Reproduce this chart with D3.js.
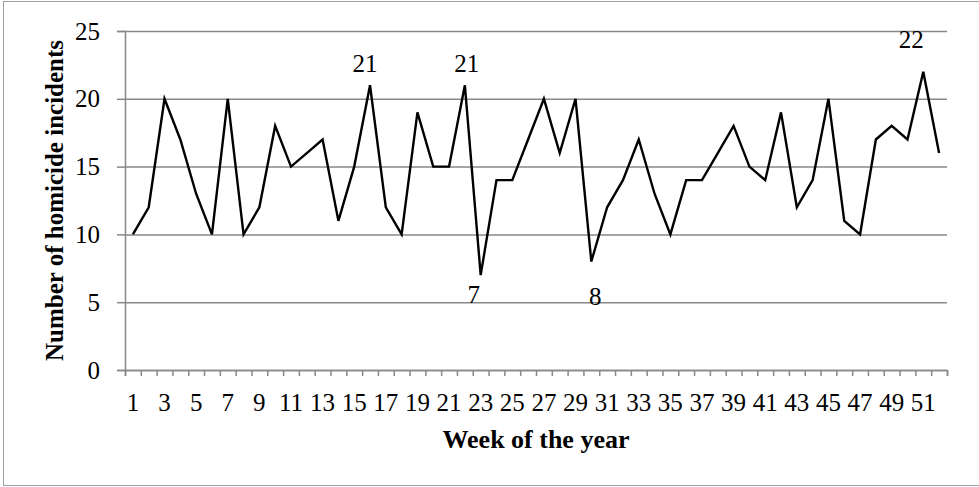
<!DOCTYPE html>
<html>
<head>
<meta charset="utf-8">
<script src="https://cdn.jsdelivr.net/npm/d3@7"></script>
<style>
	body { margin: 0; background: #fff; }
	svg { display: block; font-family: "Liberation Serif", "Times New Roman", serif; }
</style>
</head>
<body>
<script>
// DATA
const weeks = d3.range(1, 53);
const incidents = [10, 12, 20, 17, 13, 10, 20, 10, 12, 18, 15, 16, 17, 11, 15, 21, 12, 10, 19, 15,
	15, 21, 7, 14, 14, 17, 20, 16, 20, 8, 12, 14, 17, 13, 10, 14, 14, 16, 18, 15,
	14, 19, 12, 14, 20, 11, 10, 17, 18, 17, 22, 16];
const yTicks = [0, 5, 10, 15, 20, 25];
const labelledWeeks = [16, 22, 23, 30, 51];

// CONFIGURATION
const width = 979;
const height = 487;
const margin = { top: 31, right: 32, bottom: 117, left: 125 };
const fontSize = 25;
const serif = '"Liberation Serif", "Times New Roman", serif';
const gridColor = '#888888';

const xScale = d3.scaleBand()
	.domain(weeks)
	.range([margin.left, width - margin.right])
	.padding(0);
const xTickScale = d3.scaleLinear()
	.domain([0, weeks.length])
	.range([margin.left, width - margin.right]);
const yScale = d3.scaleLinear()
	.domain([0, 25])
	.range([height - margin.bottom, margin.top]);

// SVG
const svg = d3.select('body')
	.append('svg')
	.attr('width', width)
	.attr('height', height);

// outer frame
svg.append('rect')
	.attr('x', 3.5)
	.attr('y', 1.5)
	.attr('width', width)
	.attr('height', height - 3)
	.attr('fill', 'none')
	.attr('stroke', '#a0a0a0')
	.attr('stroke-width', 1);

// GRIDLINES
svg.append('g')
	.attr('transform', `translate(${margin.left}, 0)`)
	.call(d3.axisLeft(yScale).tickValues(yTicks).tickSize(-(width - margin.left - margin.right)).tickFormat(''))
	.call(function(g) { g.select('.domain').remove(); })
	.selectAll('line')
	.attr('stroke', gridColor)
	.attr('stroke-width', 1.5);

// AXES
const yAxis = svg.append('g')
	.attr('transform', `translate(${margin.left}, 0)`)
	.call(d3.axisLeft(yScale).tickValues(yTicks).tickSize(8).tickPadding(17));
yAxis.selectAll('line, path').attr('stroke', gridColor).attr('stroke-width', 1.5);
yAxis.selectAll('text')
	.attr('font-family', serif)
	.attr('font-size', fontSize)
	.attr('fill', '#000');

const xTicks = svg.append('g')
	.attr('transform', `translate(0, ${height - margin.bottom})`)
	.call(d3.axisBottom(xTickScale).tickValues(d3.range(weeks.length + 1)).tickSize(6).tickFormat(''));
xTicks.selectAll('line, path').attr('stroke', gridColor).attr('stroke-width', 1.5);

const xLabels = svg.append('g')
	.attr('transform', `translate(0, ${height - margin.bottom})`)
	.call(d3.axisBottom(xScale).tickValues(weeks.filter(function(w) { return w % 2 === 1; })).tickSize(0).tickPadding(23));
xLabels.select('.domain').remove();
xLabels.selectAll('text')
	.attr('font-family', serif)
	.attr('font-size', fontSize)
	.attr('fill', '#000');

// AXIS TITLES
svg.append('text')
	.text('Week of the year')
	.attr('x', (margin.left + width - margin.right) / 2)
	.attr('y', 448)
	.attr('text-anchor', 'middle')
	.attr('font-weight', 'bold')
	.attr('font-size', fontSize + 1);

svg.append('text')
	.text('Number of homicide incidents')
	.attr('transform', `translate(63, ${(margin.top + height - margin.bottom) / 2}) rotate(-90)`)
	.attr('text-anchor', 'middle')
	.attr('font-weight', 'bold')
	.attr('font-size', fontSize);

// LINE
const line = d3.line()
	.x(function(d, i) { return xScale(weeks[i]) + xScale.bandwidth() / 2; })
	.y(function(d) { return yScale(d); });

svg.append('path')
	.datum(incidents)
	.attr('d', line)
	.attr('fill', 'none')
	.attr('stroke', '#000')
	.attr('stroke-width', 2.4)
	.attr('stroke-linejoin', 'miter');

// DATA LABELS (nudged by hand like the original)
const labelNudge = {
	16: { dx: -5, dy: -13 },
	22: { dx: 2, dy: -13 },
	23: { dx: -7, dy: 28 },
	30: { dx: 4, dy: 43 },
	51: { dx: -12, dy: -24 }
};
svg.selectAll('.data-label')
	.data(labelledWeeks)
	.enter()
	.append('text')
	.attr('class', 'data-label')
	.attr('x', function(w) { return xScale(w) + xScale.bandwidth() / 2 + labelNudge[w].dx; })
	.attr('y', function(w) { return yScale(incidents[w - 1]) + labelNudge[w].dy; })
	.attr('text-anchor', 'middle')
	.attr('font-size', fontSize)
	.text(function(w) { return incidents[w - 1]; });
</script>
</body>
</html>
